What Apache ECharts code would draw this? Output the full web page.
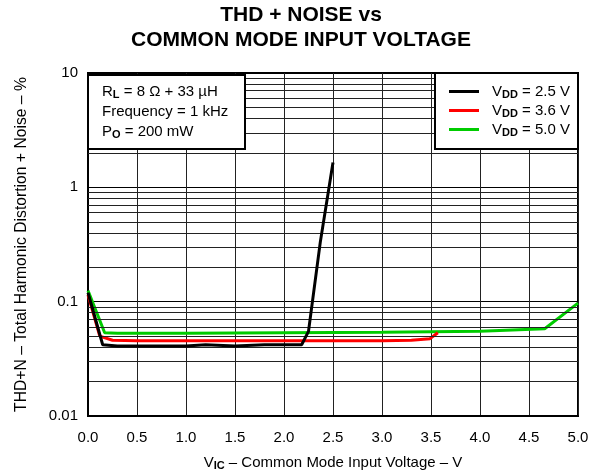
<!DOCTYPE html>
<html>
<head>
<meta charset="utf-8">
<script src="https://cdn.jsdelivr.net/npm/echarts@6/dist/echarts.min.js"></script>
<style>
  html, body { margin: 0; padding: 0; background: #fff; }
  #chart { width: 597px; height: 472px; }
</style>
</head>
<body>
<div id="chart"></div>
<script>
// curve data
const vdd25X = [0, 0.15, 0.3, 0.6, 1.0, 1.2, 1.5, 1.8, 2.0, 2.18, 2.25, 2.37, 2.5];
const vdd25Y = [0.12, 0.042, 0.041, 0.041, 0.041, 0.042, 0.041, 0.042, 0.042, 0.042, 0.055, 0.33, 1.65];

const vdd36X = [0, 0.12, 0.25, 0.5, 1.0, 1.5, 2.0, 2.5, 3.0, 3.3, 3.49, 3.57];
const vdd36Y = [0.115, 0.05, 0.046, 0.0455, 0.0455, 0.0455, 0.0455, 0.0455, 0.0455, 0.046, 0.0475, 0.0535];

const vdd50X = [0, 0.17, 0.3, 1.0, 2.0, 3.0, 4.0, 4.66, 5.0];
const vdd50Y = [0.125, 0.0535, 0.053, 0.053, 0.0535, 0.054, 0.055, 0.058, 0.097];

const seriesNames = ['2.5', '3.6', '5.0'];
const seriesColors = ['#000000', '#ff0000', '#00cc00'];

// minor grid lines for the log axis (2..9 per decade)
const minorLevels = [];
[0.01, 0.1, 1].forEach(d => {
  for (let k = 2; k <= 9; k++) minorLevels.push(+(d * k).toPrecision(3));
});

const FONT = 'Liberation Sans, Arial, sans-serif';

const zip = (xs, ys) => xs.map((x, i) => [x, ys[i]]);

const txt = { fontSize: 15, fontFamily: FONT, fontWeight: 'normal', color: '#000' };
const sub = { fontSize: 11, fontFamily: FONT, fontWeight: 'bold', color: '#000' };

const chart = echarts.init(document.getElementById('chart'));

chart.setOption({
  animation: false,
  textStyle: { fontFamily: FONT },
  graphic: [{
    type: 'text',
    x: 301, y: 3,
    style: {
      text: 'THD + NOISE vs\nCOMMON MODE INPUT VOLTAGE',
      font: 'bold 21px ' + FONT,
      fill: '#000',
      align: 'center',
      verticalAlign: 'top',
      lineHeight: 25
    }
  }],
  title: {
    left: 88, top: 73,
    z: 10,
    padding: [9, 17, 9, 14],
    backgroundColor: '#fff',
    borderColor: '#000',
    borderWidth: 2,
    text: '{t|R}{s|L}{t| = 8 Ω + 33 µH}\n{t|Frequency = 1 kHz}\n{t|P}{s|O}{t| = 200 mW}',
    textStyle: {
      fontWeight: 'normal',
      rich: {
        t: Object.assign({ lineHeight: 20 }, txt),
        s: Object.assign({ lineHeight: 20, padding: [6, 0, 0, 0] }, sub)
      }
    }
  },
  legend: {
    right: 19, top: 73,
    z: 10,
    orient: 'vertical',
    backgroundColor: '#fff',
    borderColor: '#000',
    borderWidth: 2,
    padding: [11, 8, 11, 14],
    itemGap: 3,
    itemWidth: 30,
    itemHeight: 3,
    icon: 'rect',
    data: seriesNames,
    formatter: name => '{g|}{t|V}{s|DD}{t| = ' + name + ' V}',
    textStyle: {
      rich: {
        g: { width: 8 },
        t: Object.assign({ lineHeight: 16 }, txt),
        s: Object.assign({ padding: [6, 0, 0, 0] }, sub)
      }
    }
  },
  grid: {
    left: 88, right: 19, top: 73, bottom: 56,
    outerBoundsMode: 'none',
    show: true,
    borderColor: '#000',
    borderWidth: 2
  },
  xAxis: {
    type: 'value',
    min: 0, max: 5, interval: 0.5,
    axisLine: { lineStyle: { color: '#000', width: 2 } },
    axisTick: { show: false },
    axisLabel: { color: '#000', fontSize: 15, margin: 14, formatter: v => v.toFixed(1) },
    splitLine: { lineStyle: { color: '#222', width: 1 } },
    name: '{t|V}{s|IC}{t| – Common Mode Input Voltage – V}',
    nameLocation: 'middle',
    nameGap: 38,
    nameTextStyle: {
      rich: {
        t: txt,
        s: Object.assign({ padding: [6, 0, 0, 0] }, sub)
      }
    }
  },
  yAxis: {
    type: 'log',
    logBase: 10,
    min: 0.01, max: 10,
    axisLine: { lineStyle: { color: '#000', width: 2 } },
    axisTick: { show: false },
    axisLabel: { color: '#000', fontSize: 15, margin: 10, formatter: v => String(+v.toPrecision(2)) },
    splitLine: { lineStyle: { color: '#000', width: 1 } },
    name: 'THD+N – Total Harmonic Distortion + Noise – %',
    nameLocation: 'middle',
    nameGap: 58,
    nameTextStyle: { fontSize: 15.7, color: '#000', fontFamily: FONT }
  },
  series: [
    {
      type: 'line',
      name: 'minor',
      data: [],
      silent: true,
      markLine: {
        silent: true,
        symbol: 'none',
        label: { show: false },
        lineStyle: { color: '#222', width: 1, type: 'solid' },
        data: minorLevels.map(v => ({ yAxis: v }))
      }
    },
    ...[zip(vdd25X, vdd25Y), zip(vdd36X, vdd36Y), zip(vdd50X, vdd50Y)].map((d, i) => ({
      type: 'line',
      name: seriesNames[i],
      data: d,
      showSymbol: false,
      z: 5 - i,
      lineStyle: { color: seriesColors[i], width: 3 },
      itemStyle: { color: seriesColors[i] }
    }))
  ]
});
</script>
</body>
</html>
